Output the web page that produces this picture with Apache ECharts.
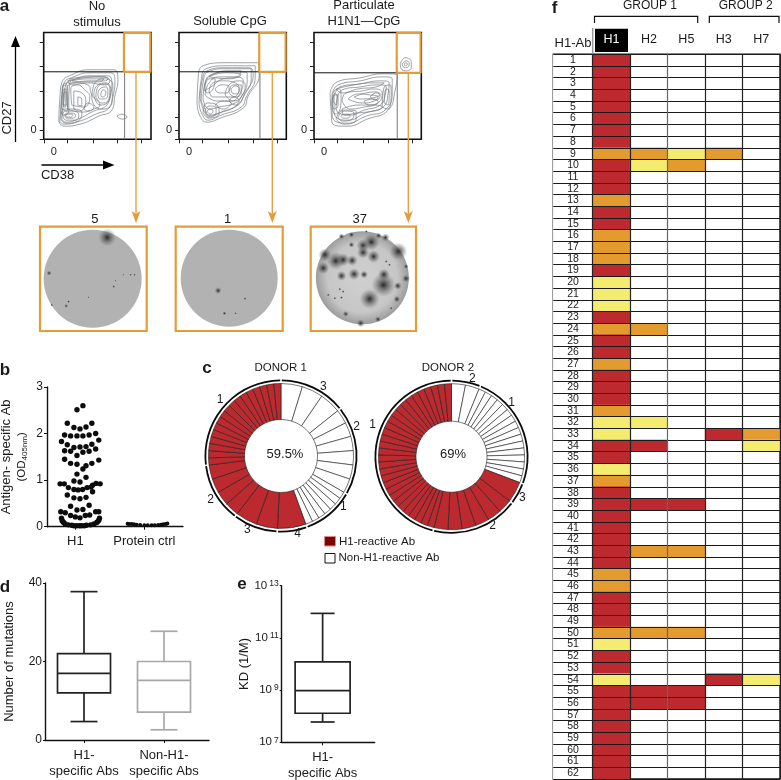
<!DOCTYPE html>
<html>
<head>
<meta charset="utf-8">
<style>
	html, body { margin: 0; padding: 0; background: #fff; }
	#chart { width: 781px; height: 780px; }
</style>
<script src="https://cdn.jsdelivr.net/npm/echarts@6/dist/echarts.min.js"></script>
</head>
<body>
<div id="chart"></div>
<script>
// panel a: contour rings, in plot units (one unit is about a pixel, y going up)
var contoursNoStim = [
	[[15,18],[16,39],[18,56],[28,64],[46,69],[70,69],[74,59],[71,43],[68,29],[55,23],[36,15],[20,13]],
	[[16,18],[18,38],[20,55],[30,62],[46,66],[67,66],[71,58],[69,42],[65,31],[52,25],[36,18],[20,15]],
	[[18,20],[20,38],[22,54],[32,60],[46,63],[64,63],[68,56],[66,42],[62,33],[50,28],[34,20],[22,17]],
	[[24,30],[23,50],[32,56],[44,54],[48,44],[56,34],[50,30],[38,27]],
	[[30,30],[30,48],[38,46],[42,38],[36,28]],
	[[34,34],[34,42],[38,40],[38,33]],
	[[19,24],[21,28],[30,28],[35,24],[32,19],[22,19]],
	[[21,24],[23,26],[29,26],[32,23],[29,21],[23,21]],
	[[22,24],[25,25],[29,24],[27,22],[23,22]],
	[[50,44],[52,52],[62,56],[67,48],[65,38],[56,34]],
	[[54,45],[56,50],[62,52],[64,46],[61,40],[56,40]],
	[[57,45],[59,49],[62,47],[61,43],[58,42]],
	[[18,30],[19,52],[23,54],[24,36],[23,28]],
	[[20,32],[20,50],[22,50],[22,32]],
	[[26,60],[45,62],[64,61],[62,58],[45,58],[28,56]],
	[[73,23],[78,25],[83,22],[78,20]],
	[[17,28],[18,45],[20,55],[26,56],[25,40],[25,28],[20,24]],
	[[19,34],[21,47],[23,46],[23,34]],
	[[24,58],[40,61],[58,62],[66,58],[62,54],[44,56],[28,54]],
	[[28,58],[44,60],[60,60],[56,57],[40,57]],
	[[48,40],[50,54],[60,60],[69,54],[68,38],[60,30],[52,32]],
	[[52,42],[54,52],[62,55],[66,50],[64,38],[58,36]],
	[[17,20],[20,30],[31,30],[38,26],[34,18],[22,16]],
	[[40,30],[44,36],[50,32],[44,28]],
	[[28,34],[27,50],[34,54],[40,50],[46,42],[40,32]]
];
var contoursCpG = [
	[[18,36],[19,59],[24,73],[48,76],[79,76],[80,64],[69,43],[64,31],[41,21],[28,17],[21,23]],
	[[20,35],[22,58],[27,70],[48,73],[76,73],[76,62],[67,42],[62,32],[42,24],[29,19],[23,25]],
	[[22,36],[24,56],[29,67],[48,70],[72,70],[72,60],[64,42],[59,34],[42,27],[30,22],[25,28]],
	[[24,40],[26,56],[32,64],[48,67],[68,66],[68,58],[62,42],[56,36],[40,32],[30,30]],
	[[26,44],[30,56],[40,62],[55,62],[64,58],[60,44],[52,38],[38,38]],
	[[30,48],[34,56],[44,58],[56,56],[60,50],[54,42],[44,42],[34,42]],
	[[36,50],[42,54],[50,52],[48,46],[40,46]],
	[[52,50],[56,53],[60,50],[58,45],[53,46]],
	[[26,28],[30,33],[37,31],[37,26],[30,23]],
	[[28,28],[31,30],[34,28],[31,25]],
	[[30,62],[46,66],[62,64],[50,60]],
	[[21,40],[23,58],[28,68],[46,71],[70,71],[74,64],[66,46],[58,34],[40,26],[30,24],[26,30]],
	[[25,48],[28,60],[38,66],[50,68],[62,68],[58,62],[44,60],[32,52]],
	[[26,52],[30,60],[36,60],[34,50],[28,46]],
	[[46,44],[50,54],[60,58],[66,54],[62,42],[54,38]],
	[[50,46],[54,54],[62,54],[62,46],[56,42]],
	[[50,38],[54,42],[60,38],[56,34]],
	[[24,26],[28,36],[38,34],[40,26],[30,21]],
	[[36,34],[44,38],[52,36],[44,30]]
];
var contoursH1N1 = [
	[[16,46],[23,57],[46,61],[69,65],[83,64],[81,49],[74,29],[53,20],[33,13],[19,15],[17,29]],
	[[18,44],[24,54],[46,58],[68,62],[78,60],[78,48],[72,30],[52,23],[33,16],[21,18],[18,30]],
	[[20,42],[26,52],[46,55],[66,58],[75,56],[74,46],[69,32],[51,26],[34,19],[23,21],[20,32]],
	[[23,40],[28,49],[46,52],[64,54],[72,52],[71,44],[66,34],[50,29],[36,24],[25,26],[22,33]],
	[[28,38],[32,46],[48,48],[60,50],[68,46],[64,36],[50,32],[36,30]],
	[[34,40],[44,45],[56,44],[64,42],[60,38],[48,36]],
	[[56,42],[62,46],[66,43],[62,39]],
	[[18,36],[20,44],[24,44],[24,34],[20,30]],
	[[70,36],[72,50],[75,48],[74,34]],
	[[24,22],[30,28],[40,26],[38,20],[28,18]],
	[[27,23],[31,25],[36,24],[34,21],[29,21]],
	[[86,75],[91,81],[97,77],[97,71],[91,68],[87,70]],
	[[88,75],[92,78],[95,75],[92,71],[89,72]],
	[[90,75],[92,76],[93,74],[91,73]],
	[[18,32],[19,46],[25,50],[27,42],[26,30],[21,25]],
	[[19,38],[21,46],[23,42],[22,34]],
	[[68,32],[70,52],[76,54],[77,44],[73,30]],
	[[22,50],[40,54],[60,56],[70,56],[62,52],[44,50],[28,46]],
	[[28,30],[44,34],[60,34],[68,32],[58,28],[42,26],[30,24]],
	[[40,42],[52,46],[62,47],[66,45],[58,41],[46,40]],
	[[22,20],[29,29],[42,28],[42,20],[30,15]],
	[[50,38],[60,40],[64,37],[54,34]]
];
var gateX = [80.7, 80.7, 83];
var gateY = [67, 67, 66];
var gateBoxLeft = [80, 80, 82.5];

var flowTicksX = [0.6, 23, 49, 73.6, 97.6];
var flowTicksY = [0, 9.3, 22, 48, 72.7, 96.7];

// panel a: wells, spots are [x, y, size]
var wellCounts = ['5', '1', '37'];
var wellDisc = [[52.3, 52, 98], [53, 52.7, 97], [52, 53, 93]];
var wellSpots = [
	[[66.7,93.3,18],[9,57.7,5],[73.3,44.3,3],[28.3,29.3,3],[26,25,4],[11.7,26,3],[48.3,33.7,2],[90,56,2.5],[94,56,2.5],[82.7,56,2],[75,50,2]],
	[[68.7,32.3,3],[48.3,17.7,4],[59.3,17.7,2.5],[42,40.3,7]],
	[[59.3,32,20],[73.3,46,24],[61,88.7,17],[88.3,79.3,18],[25.3,70,18],[32.7,71,13],[14.3,76,13],[12.7,62.7,12],[52.7,85.3,13],[52.7,78.3,12],[63.3,74.3,13],[41.7,70.3,11],[43.7,56.7,12],[53.7,56.3,8],[73.7,56.3,12],[31,55,10],[87.7,45,8],[96,52.3,8],[86.7,31.7,7],[31,94.3,6],[41,96,6],[68.3,95,6],[75.3,93.3,8],[41,86,6],[35.3,17,6],[50.3,7.7,8],[67.7,11.7,6],[29.3,41.7,3],[32.7,39.3,3],[17.7,36,3],[24.3,32.7,3],[31,33.3,3],[76,69.3,3],[79.3,66,3],[56,99.3,3],[96,64.3,5],[81,22.7,3]]
];

// panel b: [offset from category, OD405]
var h1Points = [
	[.024,2.51],[.11,2.6],[-.116,2.22],[.24,2.22],[-.02,2.13],[.068,2.1],[.155,2.14],
	[-.155,1.97],[-.068,1.95],[.024,1.95],[.11,1.95],[.2,1.97],[.295,2],[-.2,1.83],[.34,1.86],
	[-.116,1.76],[-.02,1.7],[.068,1.71],[.155,1.72],[.24,1.77],
	[-.155,1.63],[-.068,1.62],[.024,1.53],[.11,1.6],[.2,1.62],[.295,1.67],[-.155,1.45],[.34,1.43],
	[-.068,1.36],[.024,1.34],[.11,1.24],[.155,1.31],[.24,1.36],[.024,1.13],[.155,1.06],[-.02,.98],[.068,.96],
	[-.22,.92],[-.16,.92],[.25,.89],[.3,.93],[.36,.92],
	[-.1,.84],[-.02,.8],[.04,.79],[.106,.8],[.17,.84],[.227,.85],[.25,.75],
	[-.116,.68],[-.02,.62],[.068,.6],[.155,.63],[-.068,.44],[.2,.46],[.024,.36],[.11,.37],
	[-.21,.32],[-.145,.3],[.295,.32],[.34,.32],[-.068,.24],[0,.21],[.068,.19],[.145,.24],[.208,.25],
	[-.2,.18],[-.19,.13],[-.18,.11],[-.17,.09],[-.145,.06],[-.1,.04],[-.05,.03],[-.02,.02],[.02,.02],[.06,.02],[.09,.02],[.13,.02],[.16,.03],[.22,.04],[.27,.06],[.31,.09],[.325,.11],[.34,.14],[.35,.18]
];
var ctrlPoints = [[.758,.065],[.78,.06],[.816,.06],[.85,.05],[.889,.04],[.94,.035],[1,.03],[1.05,.03],[1.106,.03],[1.15,.03],[1.2,.035],[1.24,.04],[1.275,.05],[1.31,.06],[1.333,.07]];
var bCategories = ['H1', 'Protein ctrl'];

// panel c: clone sizes clockwise from 12 o'clock, white first then red
var donor1White = [3,3,3,2,2,2,2,2,2,1,1,1,1,1,1,1];
var donor1Red = [4,3,3,2,2,2,2,1,1,1,1,1,1,1,1,1,1,1,1,1,1,1,1,1];
var donor1Arcs = [9,12,7,4,6,8,17];
var donor2White = [2,2,1,1,1,1,1,1,1,1,1,1,1,1,1,1,1,1];
var donor2Red = [3,2,2,2,2,2,2,1,1,1,1,1,1,1,1,1,1,1,1,1,1,1,1,1,1,1,1,1,1,1,1,1,1,1,1,1,1];
var donor2Arcs = [4,16,3,12,30];

// panel d, e: [x, min, q1, median, q3, max]
var mutationBoxes = [[0,4.7,12,17,22,37.8],[1,2.6,7.1,15.2,20,27.7]];
var dCategories = ['H1-\nspecific Abs', 'Non-H1-\nspecific Abs'];
var kdBox = [[0,6e7,1.3e8,9.6e8,1.2e10,8.7e11]];
var eTicks = [1e7, 1e9, 1e11, 1e13];

// panel f: 0 none, 1 yellow, 2 orange, 3 red
var abLabels = [];
for (var n = 1; n <= 62; n++) abLabels.push(String(n));
var antigens = ['H1', 'H2', 'H5', 'H3', 'H7'];
var levelH1 = [3,3,3,3,3,3,3,3,2,3,3,3,2,3,3,2,2,2,3,1,1,1,3,2,3,3,2,3,3,3,2,1,1,3,3,1,2,3,3,3,3,3,3,3,2,2,3,3,3,2,1,3,3,1,3,3,3,3,3,3,3,3];
var cellsH2 = [[9,2],[10,1],[24,2],[32,1],[34,3],[39,3],[43,2],[50,2],[55,3],[56,3]];
var cellsH5 = [[9,1],[10,2],[39,3],[43,2],[50,2],[55,3],[56,3]];
var cellsH3 = [[9,2],[33,3],[54,3]];
var cellsH7 = [[33,2],[34,1],[54,1]];
var levelColors = ['#ffffff', '#f4ec6e', '#e39b30', '#bc2a2f'];

var FONT = '"Liberation Sans", Arial, sans-serif';
var ORANGE = '#e39c38';
var INK = '#1a1a1a';

var grids = [], xAxes = [], yAxes = [], series = [], graphics = [];

function addGrid(left, top, right, bottom, extra) {
	// outerBoundsMode none: v6 would otherwise shrink the grid when a name sticks out
	var g = { left: left, top: top, width: right - left, height: bottom - top, outerBoundsMode: 'none' };
	for (var k in extra) g[k] = extra[k];
	grids.push(g);
	return grids.length - 1;
}

function text(x, y, str, size, opts) {
	opts = opts || {};
	graphics.push({
		type: 'text', x: x, y: y, rotation: opts.rotation || 0, z: 50,
		style: {
			text: str, fill: opts.fill || INK, align: opts.align || 'center', verticalAlign: 'middle',
			font: (opts.bold ? 'bold ' : '') + size + 'px ' + FONT, lineHeight: opts.lineHeight || size + 3
		}
	});
}

function closed(ring) {
	return ring.concat([ring[0]]);
}

// flow plots
var flowLefts = [43.7, 179, 314];
var flowContours = [contoursNoStim, contoursCpG, contoursH1N1];
flowLefts.forEach(function (left, i) {
	var g = addGrid(left, 32.5, left + 107.3, 139.3, { show: true, borderColor: '#111', borderWidth: 1.6, backgroundColor: '#fff' });
	xAxes.push({
		gridIndex: g, type: 'value', min: 0, max: 107, splitLine: { show: false },
		axisLine: { show: false },
		axisTick: { show: true, length: 4, customValues: flowTicksX, lineStyle: { color: '#222', width: 1 } },
		axisLabel: { customValues: [10], formatter: function () { return '0'; }, fontFamily: FONT, fontSize: 11, color: INK, margin: 7 }
	});
	yAxes.push({
		gridIndex: g, type: 'value', min: 0, max: 106, splitLine: { show: false },
		axisLine: { show: false },
		axisTick: { show: true, length: 4, customValues: flowTicksY, lineStyle: { color: '#222', width: 1 } },
		axisLabel: { customValues: [9.3], formatter: function () { return '0'; }, fontFamily: FONT, fontSize: 11, color: INK, margin: 7 }
	});
	flowContours[i].forEach(function (ring) {
		series.push({
			type: 'line', xAxisIndex: g, yAxisIndex: g, data: closed(ring), smooth: 0.5, symbol: 'none', silent: true,
			lineStyle: { color: '#70767b', width: 0.8, opacity: 0.85 }, z: 2
		});
	});
	series.push({
		type: 'line', xAxisIndex: g, yAxisIndex: g, symbol: 'none', silent: true, z: 3,
		data: [[0, gateY[i]], [107, gateY[i]]], lineStyle: { color: '#111', width: 1 }
	});
	series.push({
		type: 'line', xAxisIndex: g, yAxisIndex: g, symbol: 'none', silent: true, z: 3,
		data: [[gateX[i], 0], [gateX[i], gateY[i]]], lineStyle: { color: '#777', width: 1 }
	});
	series.push({
		type: 'line', xAxisIndex: g, yAxisIndex: g, symbol: 'none', silent: true, z: 4,
		data: [[gateBoxLeft[i], gateY[i]], [gateBoxLeft[i], 105.5], [106.3, 105.5], [106.3, gateY[i]], [gateBoxLeft[i], gateY[i]]],
		lineStyle: { color: ORANGE, width: 2.2 }
	});
});

// wells
var wellLefts = [40, 175.7, 310.7];
var wellRights = [146.7, 282.7, 416];
wellLefts.forEach(function (left, i) {
	var g = addGrid(left, 226.7, wellRights[i], 331, { show: true, borderColor: ORANGE, borderWidth: 2.2, backgroundColor: '#fff' });
	xAxes.push({ gridIndex: g, type: 'value', min: 0, max: 106, show: false });
	yAxes.push({ gridIndex: g, type: 'value', min: 0, max: 104, show: false });
	var discColor = i < 2 ? '#b2b2b2' : {
		type: 'radial', x: 0.5, y: 0.5, r: 0.5,
		colorStops: [{ offset: 0, color: '#d0d0d0' }, { offset: 0.75, color: '#c6c6c6' }, { offset: 1, color: '#9c9c9c' }]
	};
	series.push({
		type: 'scatter', xAxisIndex: g, yAxisIndex: g, silent: true, z: 2, data: [wellDisc[i]],
		symbolSize: function (v) { return v[2]; }, itemStyle: { color: discColor, opacity: 1 }
	});
	series.push({
		type: 'scatter', xAxisIndex: g, yAxisIndex: g, silent: true, z: 3, data: wellSpots[i],
		symbolSize: function (v) { return v[2]; },
		itemStyle: {
			opacity: 1,
			color: {
				type: 'radial', x: 0.5, y: 0.5, r: 0.5,
				colorStops: [{ offset: 0, color: 'rgba(40,40,40,1)' }, { offset: 0.22, color: 'rgba(60,60,60,0.8)' }, { offset: 1, color: 'rgba(110,110,110,0)' }]
			}
		}
	});
	text((left + wellRights[i]) / 2 + (i === 0 ? 1.5 : i === 2 ? -3.5 : -1.5), 219, wellCounts[i], 13);
});

// orange arrows from the gates down to the wells
[136, 272.3, 408.3].forEach(function (x) {
	graphics.push({ type: 'line', z: 40, shape: { x1: x, y1: 73, x2: x, y2: 216 }, style: { stroke: '#e2a24c', lineWidth: 1.4 } });
	graphics.push({ type: 'polygon', z: 40, shape: { points: [[x - 4.5, 211], [x, 214], [x + 4.5, 211], [x, 223]] }, style: { fill: ORANGE } });
});

// black axis arrows
graphics.push({ type: 'line', z: 40, shape: { x1: 15.5, y1: 142, x2: 15.5, y2: 42 }, style: { stroke: '#000', lineWidth: 1.3 } });
graphics.push({ type: 'polygon', z: 40, shape: { points: [[11, 47], [15.5, 36], [20, 47]] }, style: { fill: '#000' } });
graphics.push({ type: 'line', z: 40, shape: { x1: 41.5, y1: 165, x2: 108, y2: 165 }, style: { stroke: '#000', lineWidth: 1.3 } });
graphics.push({ type: 'polygon', z: 40, shape: { points: [[103, 160.5], [114.5, 165], [103, 169.5]] }, style: { fill: '#000' } });

// panel b
var gb = addGrid(47, 387, 183, 526.7);
xAxes.push({
	gridIndex: gb, type: 'value', min: -0.41, max: 1.56, splitLine: { show: false },
	axisLine: { show: true, onZero: false, lineStyle: { color: '#111', width: 1.4 } },
	axisTick: { show: true, length: 3, customValues: [0, 1], lineStyle: { color: '#111', width: 1 } },
	axisLabel: { customValues: [0, 1], formatter: function (v) { return bCategories[v]; }, fontFamily: FONT, fontSize: 13, color: INK, margin: 8 }
});
yAxes.push({
	gridIndex: gb, type: 'value', min: 0, max: 3, interval: 1, splitLine: { show: false },
	axisLine: { show: true, onZero: false, lineStyle: { color: '#111', width: 1.4 } },
	axisTick: { show: true, length: 3, lineStyle: { color: '#111', width: 1 } },
	axisLabel: { fontFamily: FONT, fontSize: 12, color: INK, margin: 4 },
	name: 'Antigen- specific Ab\n{small|(OD}{sub|405nm}{small|)}', nameLocation: 'middle', nameGap: 18, nameRotate: 90,
	nameTextStyle: {
		fontFamily: FONT, fontSize: 13, color: INK, lineHeight: 15,
		rich: {
			small: { fontFamily: FONT, fontSize: 11.5, color: INK, lineHeight: 15 },
			sub: { fontFamily: FONT, fontSize: 8, color: INK, verticalAlign: 'bottom', lineHeight: 11 }
		}
	}
});
series.push({ type: 'scatter', xAxisIndex: gb, yAxisIndex: gb, data: h1Points, symbolSize: 5.4, itemStyle: { color: '#0c0c0c', opacity: 1 }, silent: true, z: 3 });
series.push({ type: 'scatter', xAxisIndex: gb, yAxisIndex: gb, data: ctrlPoints, symbolSize: 4, itemStyle: { color: '#0c0c0c', opacity: 1 }, silent: true, z: 3 });

// panel c
function pieData(white, red) {
	var out = [];
	white.forEach(function (v) { out.push({ value: v, itemStyle: { color: '#fff' } }); });
	red.forEach(function (v) { out.push({ value: v, itemStyle: { color: '#bc2a2f' } }); });
	return out;
}
function addDonor(center, inner, outer, data, arcs, padAngle) {
	series.push({
		type: 'pie', center: center, radius: [inner, outer], startAngle: 90, clockwise: true, silent: true, z: 3,
		label: { show: false }, labelLine: { show: false }, data: data,
		itemStyle: { borderColor: '#1c1c1c', borderWidth: 0.6 }
	});
	series.push({
		type: 'pie', center: center, radius: [outer + 2.2, outer + 4], startAngle: 90, clockwise: true, silent: true, z: 3,
		padAngle: padAngle, label: { show: false }, labelLine: { show: false },
		data: arcs.map(function (v) { return { value: v, itemStyle: { color: '#0a0a0a' } }; })
	});
}
addDonor([281, 456], 36.5, 72.5, pieData(donor1White, donor1Red), donor1Arcs, 1.2);
addDonor([451.5, 456.7], 35.5, 73, pieData(donor2White, donor2Red), donor2Arcs, 1.2);

text(280.7, 367.7, 'DONOR 1', 11.5);
text(448, 367.7, 'DONOR 2', 11.5);
text(285, 454.3, '59.5%', 13);
text(453, 454.3, '69%', 13);
[[323.3,386.7,'3'],[356.7,426.7,'2'],[343.3,506.7,'1'],[297.7,534,'4'],[247.3,529.3,'3'],[210.7,499.3,'2'],[220,399.3,'1'],
 [472.3,379,'2'],[511.7,402.3,'1'],[522.3,497.7,'3'],[492.7,525.7,'2'],[372.7,425,'1']].forEach(function (l) {
	text(l[0], l[1], l[2], 12);
});
graphics.push({ type: 'rect', z: 40, shape: { x: 324.5, y: 536.5, width: 11, height: 9.5 }, style: { fill: '#7c0606', stroke: '#e08a8a', lineWidth: 1 } });
graphics.push({ type: 'rect', z: 40, shape: { x: 325, y: 553.5, width: 10, height: 9.5 }, style: { fill: '#fff', stroke: '#111', lineWidth: 1 } });
text(339, 541.5, 'H1-reactive Ab', 11.5, { align: 'left' });
text(338.5, 558, 'Non-H1-reactive Ab', 11.5, { align: 'left' });

// box plots, whisker caps are narrower than the box so boxplot series does not fit
function boxRenderer(boxWidth, capWidth, colors) {
	return function (params, api) {
		var x = api.value(0);
		var color = colors[params.dataIndex];
		var pMin = api.coord([x, api.value(1)]), pQ1 = api.coord([x, api.value(2)]), pMed = api.coord([x, api.value(3)]);
		var pQ3 = api.coord([x, api.value(4)]), pMax = api.coord([x, api.value(5)]);
		var cx = pMin[0];
		var st = { stroke: color, lineWidth: 1.7, fill: 'none' };
		function seg(x1, y1, x2, y2, w) {
			return { type: 'line', shape: { x1: x1, y1: y1, x2: x2, y2: y2 }, style: { stroke: color, lineWidth: w || 1.7 } };
		}
		return {
			type: 'group',
			children: [
				seg(cx, pMax[1], cx, pQ3[1]),
				seg(cx, pQ1[1], cx, pMin[1]),
				seg(cx - capWidth / 2, pMax[1], cx + capWidth / 2, pMax[1]),
				seg(cx - capWidth / 2, pMin[1], cx + capWidth / 2, pMin[1]),
				{ type: 'rect', shape: { x: cx - boxWidth / 2, y: pQ3[1], width: boxWidth, height: pQ1[1] - pQ3[1] }, style: st },
				seg(cx - boxWidth / 2, pMed[1], cx + boxWidth / 2, pMed[1])
			]
		};
	};
}

// panel d
var gd = addGrid(45, 583, 209, 740);
xAxes.push({
	gridIndex: gd, type: 'value', min: -0.4875, max: 1.5625, splitLine: { show: false },
	axisLine: { show: true, onZero: false, lineStyle: { color: '#111', width: 1.4 } },
	axisTick: { show: true, length: 3, customValues: [0, 1], lineStyle: { color: '#111', width: 1 } },
	axisLabel: { customValues: [0, 1], formatter: function (v) { return dCategories[v]; }, fontFamily: FONT, fontSize: 13, lineHeight: 16, color: INK, margin: 7 }
});
yAxes.push({
	gridIndex: gd, type: 'value', min: 0, max: 40, interval: 20, splitLine: { show: false },
	axisLine: { show: true, onZero: false, lineStyle: { color: '#111', width: 1.4 } },
	axisTick: { show: true, length: 2, lineStyle: { color: '#111', width: 1 } },
	axisLabel: { fontFamily: FONT, fontSize: 12, color: INK, margin: 3 },
	name: 'Number of mutations', nameLocation: 'middle', nameGap: 29, nameRotate: 90,
	nameTextStyle: { fontFamily: FONT, fontSize: 13, color: INK }
});
series.push({
	type: 'custom', xAxisIndex: gd, yAxisIndex: gd, silent: true, z: 3, data: mutationBoxes,
	encode: { x: 0, y: [1, 2, 3, 4, 5] }, renderItem: boxRenderer(53, 27, ['#222222', '#a9a9a9'])
});

// panel e
var ge = addGrid(281.7, 585.7, 374.7, 742.3);
xAxes.push({
	gridIndex: ge, type: 'value', min: -0.44, max: 0.56, splitLine: { show: false },
	axisLine: { show: true, onZero: false, lineStyle: { color: '#111', width: 1.4 } },
	axisTick: { show: true, length: 3, customValues: [0], lineStyle: { color: '#111', width: 1 } },
	axisLabel: { customValues: [0], formatter: function () { return 'H1-\nspecific Abs'; }, fontFamily: FONT, fontSize: 13, lineHeight: 16, color: INK, margin: 7 }
});
yAxes.push({
	gridIndex: ge, type: 'log', logBase: 10, min: 1e7, max: 1e13, splitLine: { show: false },
	axisLine: { show: true, onZero: false, lineStyle: { color: '#111', width: 1.4 } },
	axisTick: { show: true, length: 2, customValues: eTicks, lineStyle: { color: '#111', width: 1 } },
	axisLabel: {
		customValues: eTicks, margin: 3, fontFamily: FONT, fontSize: 12, color: INK,
		formatter: function (v) { return '{base|10}{exp|' + Math.round(Math.log(v) / Math.LN10) + '}'; },
		rich: {
			base: { fontFamily: FONT, fontSize: 11.5, color: INK, padding: [0, 2, 0, 0] },
			exp: { fontFamily: FONT, fontSize: 8.5, color: INK, verticalAlign: 'top', padding: [0, 0, 4, 0] }
		}
	},
	name: 'KD (1/M)', nameLocation: 'middle', nameGap: 31, nameRotate: 90,
	nameTextStyle: { fontFamily: FONT, fontSize: 13, color: INK }
});
series.push({
	type: 'custom', xAxisIndex: ge, yAxisIndex: ge, silent: true, z: 3, data: kdBox,
	encode: { x: 0, y: [1, 2, 3, 4, 5] }, renderItem: boxRenderer(55, 24, ['#222222'])
});

// panel f, row label column
var rowGridStyle = { show: true, borderColor: '#111', borderWidth: 1.4, backgroundColor: '#fff' };
var gr = addGrid(553.3, 54.3, 592.7, 779, rowGridStyle);
xAxes.push({
	gridIndex: gr, type: 'category', position: 'top', data: ['H1-Ab'], splitLine: { show: false },
	axisLine: { show: false }, axisTick: { show: false },
	axisLabel: { fontFamily: FONT, fontSize: 13, color: INK, margin: 4 }
});
yAxes.push({
	gridIndex: gr, type: 'category', inverse: true, data: abLabels, z: 5,
	axisLine: { show: false }, axisTick: { show: false }, axisLabel: { show: false },
	splitLine: { show: true, interval: 0, lineStyle: { color: '#1a1a1a', width: 1.1 } }
});
series.push({
	type: 'heatmap', xAxisIndex: gr, yAxisIndex: gr, silent: true, z: 2,
	data: abLabels.map(function (s, i) { return [0, i, s]; }),
	itemStyle: { color: '#fff' },
	label: { show: true, formatter: function (p) { return p.value[2]; }, fontFamily: FONT, fontSize: 10.5, color: '#222' }
});

// panel f, reactivity table
var cellData = [];
levelH1.forEach(function (level, i) { cellData.push([0, i, level]); });
[cellsH2, cellsH5, cellsH3, cellsH7].forEach(function (cells, col) {
	cells.forEach(function (c) { cellData.push([col + 1, c[0] - 1, c[1]]); });
});
var gf = addGrid(592.7, 54.3, 780, 779, rowGridStyle);
xAxes.push({
	gridIndex: gf, type: 'category', position: 'top', data: antigens, z: 5,
	axisLine: { show: false }, axisTick: { show: false },
	splitLine: { show: true, interval: 0, lineStyle: { color: ['#222', '#222', '#666', '#222', '#222', '#222'], width: 1.2 } },
	axisLabel: {
		interval: 0, fontFamily: FONT, fontSize: 12.5, margin: 8,
		color: function (v) { return v === 'H1' ? '#fff' : INK; }
	}
});
yAxes.push({
	gridIndex: gf, type: 'category', inverse: true, data: abLabels, z: 5,
	axisLine: { show: false }, axisTick: { show: false }, axisLabel: { show: false },
	splitLine: { show: true, interval: 0, lineStyle: { color: '#1a1a1a', width: 1.1 } }
});
series.push({
	type: 'heatmap', xAxisIndex: gf, yAxisIndex: gf, silent: true, z: 2,
	data: cellData.map(function (c) { return { value: c, itemStyle: { color: levelColors[c[2]] } }; })
});

// black header box sits under the H1 axis label (axis z is 5)
graphics.push({ type: 'rect', z: 1, shape: { x: 595, y: 28.7, width: 33, height: 23.3 }, style: { fill: '#000' } });
// group brackets above the table
graphics.push({ type: 'polyline', z: 40, shape: { points: [[594.5, 23], [594.5, 16.3], [697.7, 16.3], [697.7, 23]] }, style: { stroke: '#111', lineWidth: 1.2, fill: 'none' } });
graphics.push({ type: 'polyline', z: 40, shape: { points: [[709.3, 23], [709.3, 16.3], [779, 16.3], [779, 23]] }, style: { stroke: '#111', lineWidth: 1.2, fill: 'none' } });
graphics.push({ type: 'line', z: 40, shape: { x1: 592.7, y1: 28, x2: 592.7, y2: 54 }, style: { stroke: '#999', lineWidth: 1.5 } });
text(650, 5.5, 'GROUP 1', 12);
text(745.7, 5.5, 'GROUP 2', 12);

// titles, axis names and panel letters
text(97, 14.5, 'No\nstimulus', 13, { lineHeight: 16 });
text(230, 21, 'Soluble CpG', 13);
text(364, 13, 'Particulate\nH1N1\u2014CpG', 13, { lineHeight: 16 });
text(7, 118, 'CD27', 13, { rotation: Math.PI / 2 });
text(57.5, 175, 'CD38', 13);
text(4.5, 6, 'a', 17, { bold: true });
text(5, 370, 'b', 17, { bold: true });
text(207, 368, 'c', 17, { bold: true });
text(5, 587, 'd', 17, { bold: true });
text(242, 584, 'e', 17, { bold: true });
text(554.5, 8, 'f', 17, { bold: true });

var chart = echarts.init(document.getElementById('chart'));
chart.setOption({
	animation: false,
	backgroundColor: '#ffffff',
	tooltip: { show: false },
	grid: grids,
	xAxis: xAxes,
	yAxis: yAxes,
	series: series,
	graphic: { elements: graphics }
});
</script>
</body>
</html>
